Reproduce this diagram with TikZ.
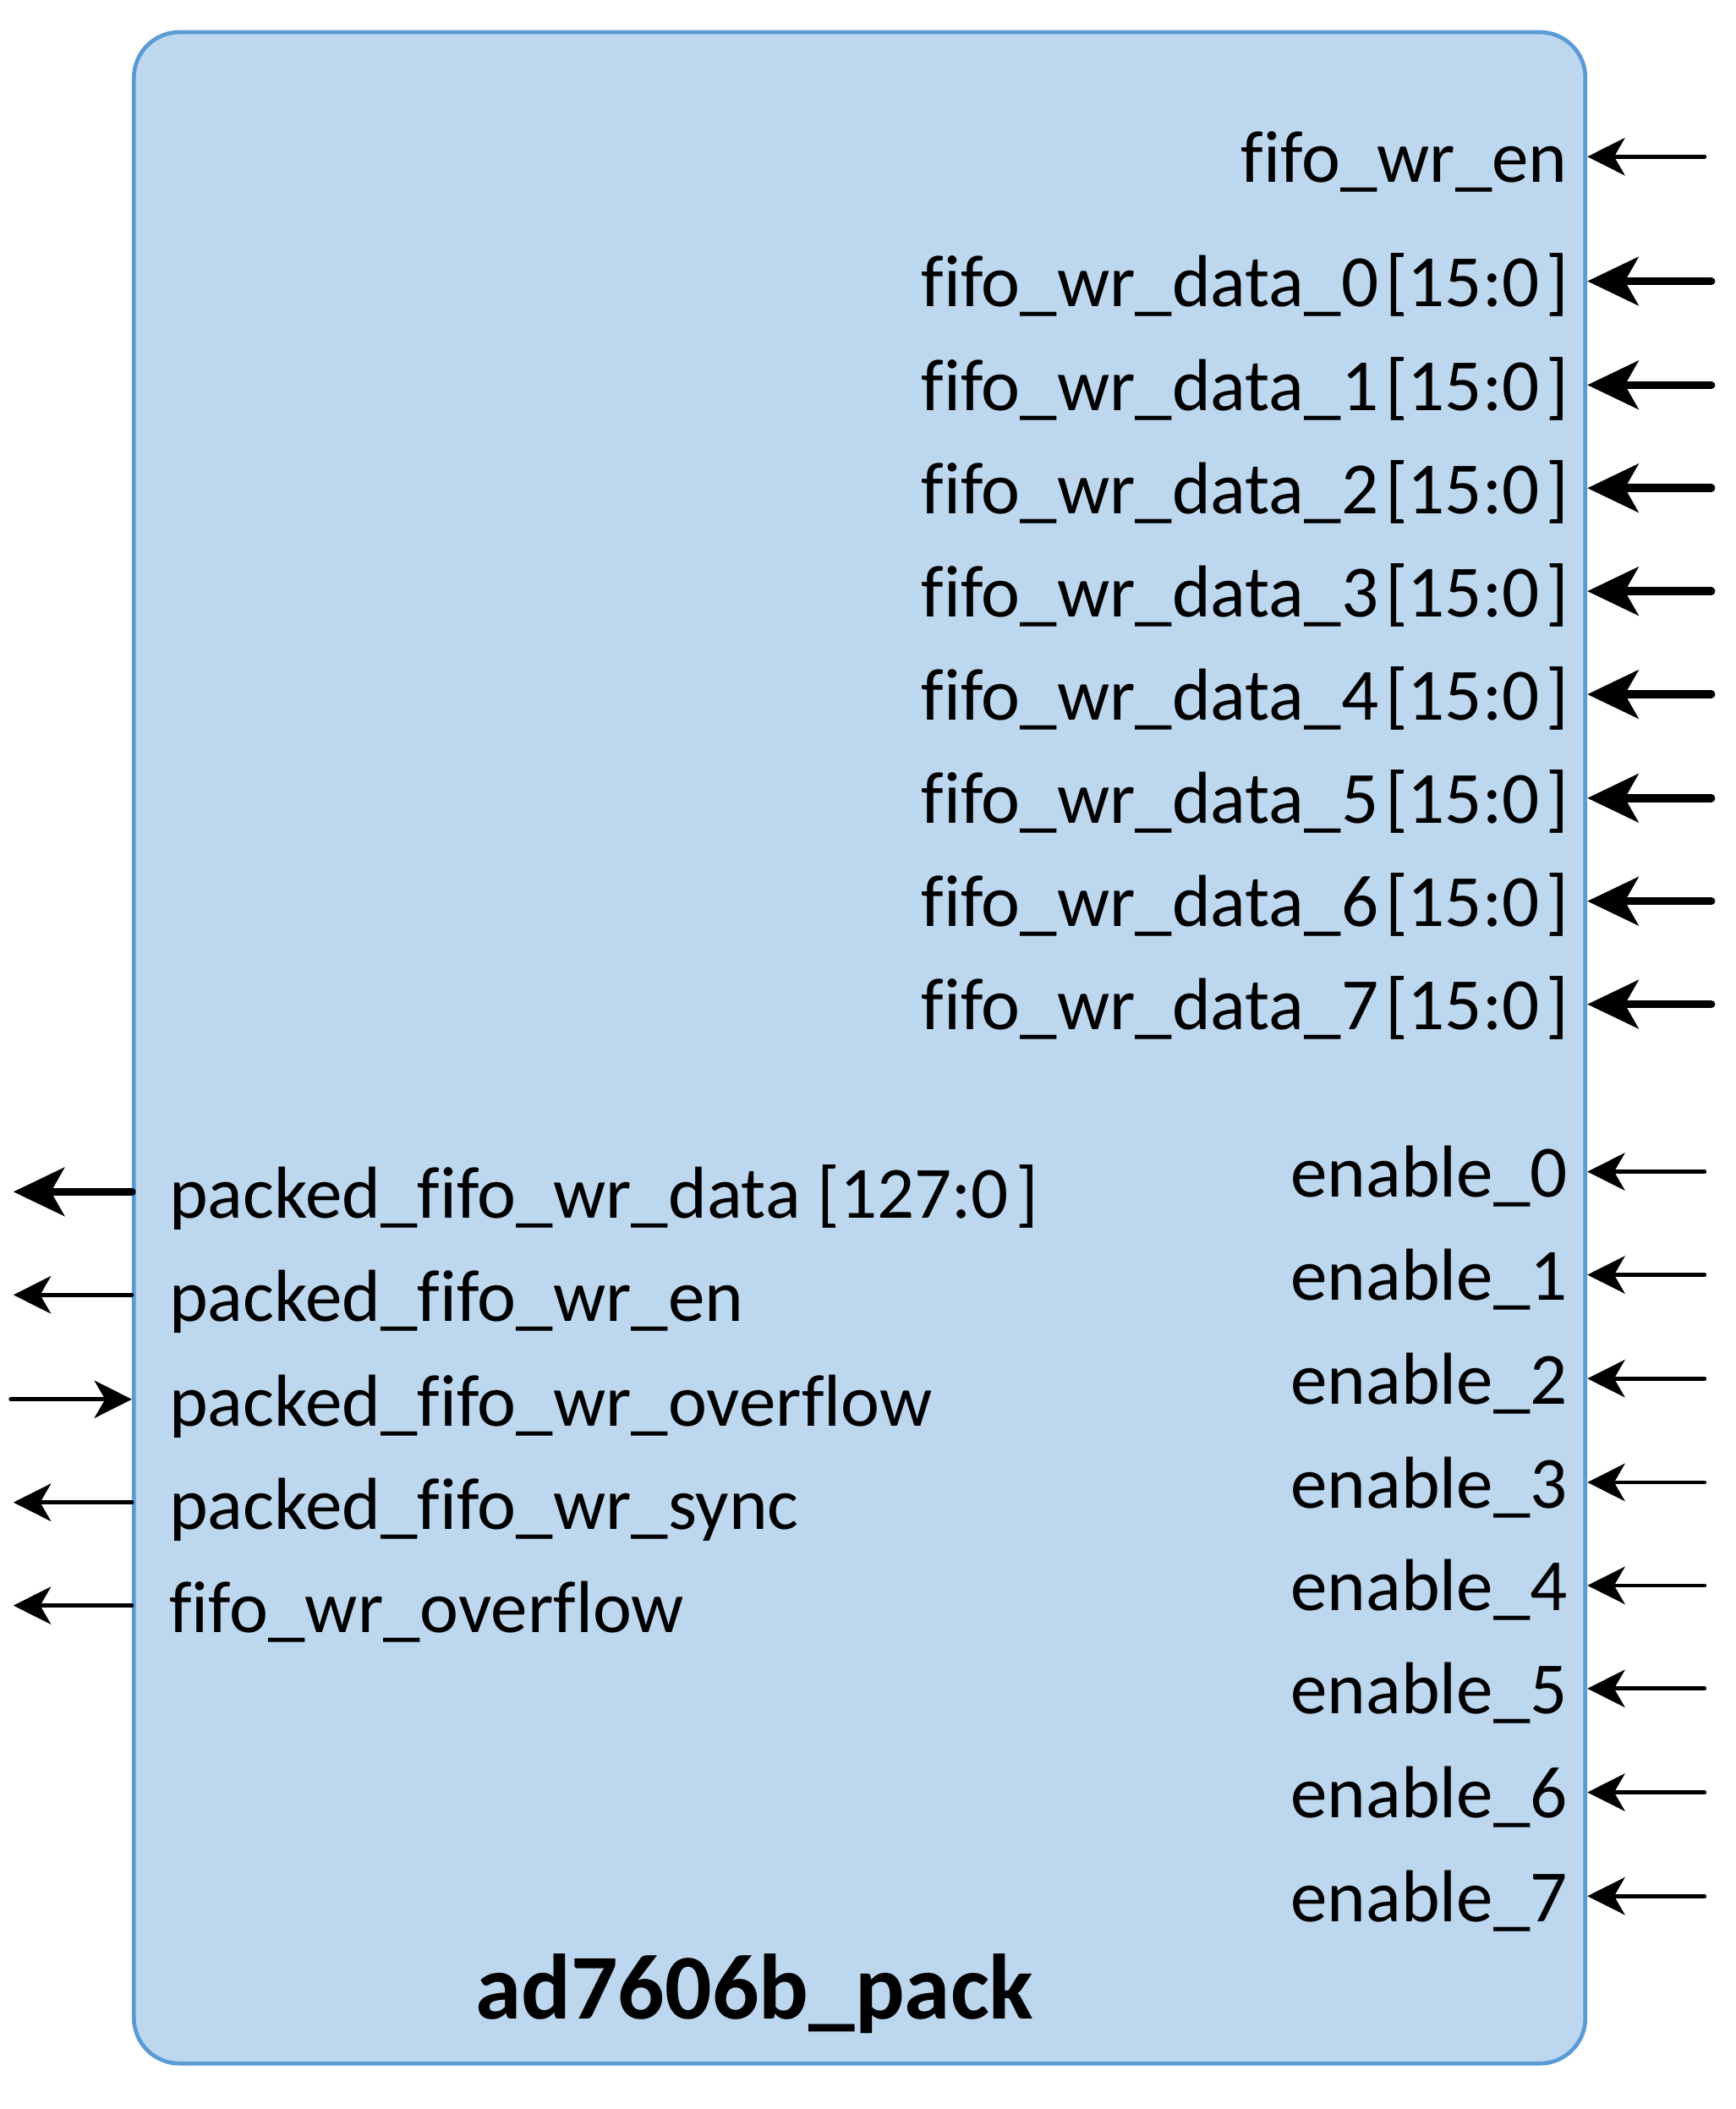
\documentclass[tikz,border=0pt]{standalone}
\usepackage{fontspec}
\setmainfont{Carlito}[Ligatures=NoCommon]
\usetikzlibrary{arrows.meta}
\definecolor{boxfill}{HTML}{BDD7EE}
\definecolor{boxline}{HTML}{5B9BD5}
\tikzset{
  blockbox/.style={draw=boxline, fill=boxfill, line width=1.5pt, rounded corners=17pt, inner sep=0pt},
  lbl/.style={inner sep=0pt, font=\fontsize{27.5}{32}\selectfont},
  ttl/.style={inner sep=0pt, font=\fontsize{34.6}{40}\selectfont\bfseries},
  thinarrow/.style={line width=1.5pt, line cap=round, -{Stealth[length=14pt,width=14pt,inset=4pt]}},
  thickarrow/.style={line width=3pt, line cap=round, -{Stealth[length=19pt,width=18pt,inset=5pt]}},
}
\begin{document}
\begin{tikzpicture}[x=0.5pt,y=-0.5pt]
\useasboundingbox (0,0) rectangle (1296,1575);
\node[blockbox, minimum width=542pt, minimum height=758.5pt] (blk) at (642,782.5) {};
% title
\node[ttl, anchor=base] (title) at (563.5,1508) {ad7606b\_pack};
% right side: fifo_wr_en
\node[lbl, anchor=base east] (wren) at (1171,136) {fifo\_wr\_en};
\coordinate (wrenext) at (1273,117);
\draw[thinarrow] (wrenext) -- (wrenext -| blk.east);
% data ports
\foreach \i/\y in {0/210,1/287.5,2/364.5,3/441.5,4/518.5,5/596,6/673,7/750}{
  \node[lbl, anchor=base east] (dat\i) at (1172,\y+19) {fifo\_wr\_data\_\i\kern2.5pt[15:0\kern2.5pt]};
  \coordinate (datext\i) at (1278,\y);
  \draw[thickarrow] (datext\i) -- (datext\i -| blk.east);
}
% enables
\foreach \i/\y in {0/875,1/952,2/1029.5,3/1107,4/1184,5/1261,6/1338.5,7/1416}{
  \node[lbl, anchor=base east] (en\i) at (1171,\y+19) {enable\_\i};
  \coordinate (enext\i) at (1273,\y);
  \draw[thinarrow] (enext\i) -- (enext\i -| blk.east);
}
% left side
\node[lbl, anchor=base west] (pdata) at (126,910) {packed\_fifo\_wr\_data [127:0\kern2.5pt]};
\coordinate (pdataext) at (10,890);
\draw[thickarrow] (pdataext -| blk.west) -- (pdataext);
\node[lbl, anchor=base west] (pen) at (126,987) {packed\_fifo\_wr\_en};
\coordinate (penext) at (10,967);
\draw[thinarrow] (penext -| blk.west) -- (penext);
\node[lbl, anchor=base west] (pov) at (126,1065) {packed\_fifo\_wr\_overflow};
\coordinate (povext) at (8,1045);
\draw[thinarrow] (povext) -- (povext -| blk.west);
\node[lbl, anchor=base west] (psync) at (126,1142) {packed\_fifo\_wr\_sync};
\coordinate (psyncext) at (10,1122);
\draw[thinarrow] (psyncext -| blk.west) -- (psyncext);
\node[lbl, anchor=base west] (fov) at (126,1219) {fifo\_wr\_overflow};
\coordinate (fovext) at (10,1199);
\draw[thinarrow] (fovext -| blk.west) -- (fovext);
\end{tikzpicture}
\end{document}
